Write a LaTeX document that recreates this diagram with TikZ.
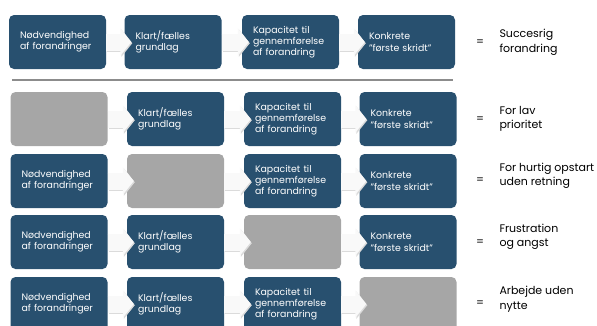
\documentclass[tikz,border=0pt]{standalone}
\usepackage{fontspec}
\setmainfont{Poppins}
\usepackage{xcolor}
\usetikzlibrary{arrows.meta, positioning}

\definecolor{stepblue}{HTML}{28506F}
\definecolor{stepgray}{HTML}{A6A6A6}
\definecolor{rulegray}{HTML}{8C8C8C}

\begin{document}
\begin{tikzpicture}[x=1pt, y=-1pt,
  stepbox/.style={rectangle, rounded corners=5pt, fill=stepblue, text=white, minimum width=97pt, minimum height=54pt, text width=75pt, inner xsep=11pt, align=left, font=\fontsize{9.4}{11.3}\selectfont},
  emptybox/.style={stepbox, fill=stepgray},
  blockarrow/.style={gray!5, line width=17pt, -{Triangle[length=11pt, width=27pt]}},
  blockshade/.style={gray!28, line width=17pt, -{Triangle[length=11pt, width=27pt]}},
  eqsign/.style={font=\fontsize{11}{14}\selectfont},
  outcome/.style={anchor=west, align=left, font=\fontsize{11}{14.5}\selectfont}]
\clip (0,0) rectangle (597,325);

% row 1: all four in place
\node[stepbox] (r1c1) at (57.5, 42) {Nødvendighed\\af forandringer};
\node[stepbox] (r1c2) at (173, 42) {Klart/fælles\\grundlag};
\node[stepbox] (r1c3) at (290.5, 42) {Kapacitet til\\gennemførelse\\af forandring};
\node[stepbox] (r1c4) at (406.5, 42) {Konkrete\\"første skridt"};
\node[eqsign] (r1eq) at (480, 43) {=};
\node[outcome] (r1out) at (496, 42.5) {Succesrig\\forandring};

\draw[rulegray, line width=2.2pt] (12, 80) -- (453, 80);

% row 2: no need
\node[emptybox] (r2c1) at (59, 119) {};
\node[stepbox] (r2c2) at (175.5, 119) {Klart/fælles\\grundlag};
\node[stepbox] (r2c3) at (292.5, 119) {Kapacitet til\\gennemførelse\\af forandring};
\node[stepbox] (r2c4) at (408, 119) {Konkrete\\"første skridt"};
\node[eqsign] (r2eq) at (480, 120) {=};
\node[outcome] (r2out) at (496, 119) {For lav\\prioritet};

% row 3: no common ground
\node[stepbox] (r3c1) at (59, 181) {Nødvendighed\\af forandringer};
\node[emptybox] (r3c2) at (175.5, 181) {};
\node[stepbox] (r3c3) at (292.5, 181) {Kapacitet til\\gennemførelse\\af forandring};
\node[stepbox] (r3c4) at (408, 181) {Konkrete\\"første skridt"};
\node[eqsign] (r3eq) at (480, 181) {=};
\node[outcome] (r3out) at (496, 176) {For hurtig opstart\\uden retning};

% row 4: no capacity
\node[stepbox] (r4c1) at (59, 242) {Nødvendighed\\af forandringer};
\node[stepbox] (r4c2) at (175.5, 242) {Klart/fælles\\grundlag};
\node[emptybox] (r4c3) at (292.5, 242) {};
\node[stepbox] (r4c4) at (408, 242) {Konkrete\\"første skridt"};
\node[eqsign] (r4eq) at (480, 243) {=};
\node[outcome] (r4out) at (496, 237) {Frustration\\og angst};

% row 5: no first steps
\node[stepbox] (r5c1) at (59, 304) {Nødvendighed\\af forandringer};
\node[stepbox] (r5c2) at (175.5, 304) {Klart/fælles\\grundlag};
\node[stepbox] (r5c3) at (292.5, 304) {Kapacitet til\\gennemførelse\\af forandring};
\node[emptybox] (r5c4) at (408, 304) {};
\node[eqsign] (r5eq) at (480, 304) {=};
\node[outcome] (r5out) at (496, 299) {Arbejde uden\\nytte};

% arrows between the steps
\foreach \r in {1,...,5}{
  \foreach \a/\b in {1/2, 2/3, 3/4}{
    \draw[blockshade] ([xshift=0.8pt, yshift=-1.2pt]r\r c\a.east) -- ([xshift=8pt, yshift=-1.2pt]r\r c\b.west);
    \draw[blockarrow] (r\r c\a.east) -- ([xshift=7pt]r\r c\b.west);
  }
}
\end{tikzpicture}
\end{document}
